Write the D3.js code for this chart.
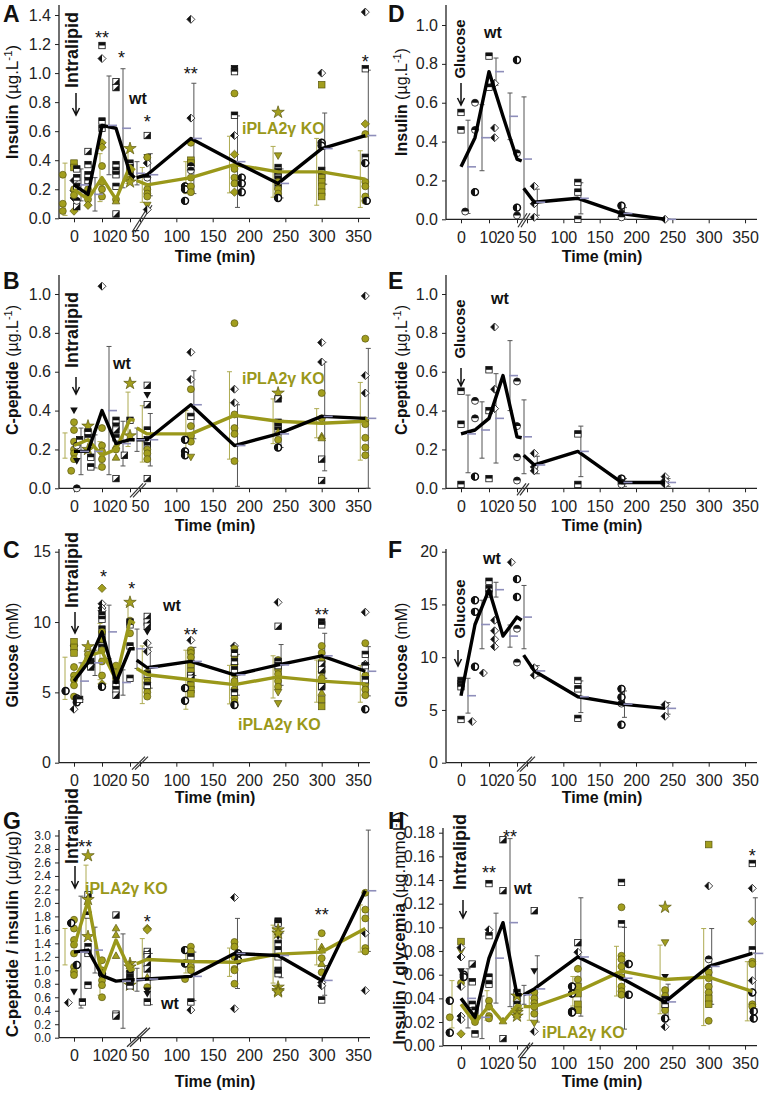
<!DOCTYPE html>
<html><head><meta charset="utf-8">
<script src="https://cdn.jsdelivr.net/npm/d3@7"></script>
<style>body{margin:0;background:#fff} svg{display:block}</style>
</head><body><svg id="c" width="765" height="1093"></svg>
<script>
// ---------- shared ----------
const xTickVals = [0,10,20,50,100,150,200,250,300,350];
const tEarly = [0,5,10,15,20,34];
const tLate = [40,60,120,180,240,300,360];
const tLateR = [40,60,120,180,240];

// ---------- Panel A: insulin, intralipid ----------
const A_wtE = [0.23,0.165,0.64,0.62,0.31,0.28];
const A_wtE_sd = [0.11,0.115,0.34,0.41,0.08,null];
const A_wtL = [0.28,0.30,0.55,0.39,0.24,0.48,0.57];
const A_wtL_sd = [null,0.145,0.38,0.315,0.10,0.245,0.45];
const A_koE = [0.20,0.13,0.28,0.13,0.36,0.33];
const A_koE_sd = [0.18,null,0.165,null,0.12,null];
const A_koL = [0.26,0.23,0.28,0.37,0.32,0.32,0.27];
const A_koL_sd = [null,0.12,0.11,0.195,0.175,0.23,0.195];
const A_pts = [[-4,0.30,'O'],[-4,0.10,'O'],[-4,0.05,'O'],
[0,0.38,'Q'],[0,0.35,'Q'],[0,0.26,'d'],[0,0.19,'d'],[0,0.14,'d'],[0,0.20,'O'],[0,0.05,'D'],[1,0.34,'q'],[1,0.28,'q'],[1,0.22,'q'],[1,0.08,'r'],[1,0.12,'h'],[0,0.16,'O'],
[5,0.46,'r'],[5,0.37,'q'],[5,0.30,'q'],[5,0.26,'q'],[5,0.20,'O'],[5,0.17,'O'],[5,0.13,'O'],[5,0.09,'D'],
[10,1.19,'q'],[10,1.10,'d'],[10,0.67,'q'],[10,0.62,'q'],[10,0.52,'D'],[10,0.49,'D'],[10,0.36,'O'],[10,0.25,'O'],[10,0.20,'O'],[10,0.15,'O'],
[15,0.94,'r'],[15,0.90,'r'],[15,0.37,'q'],[15,0.33,'q'],[15,0.30,'q'],[15,0.22,'q'],[15,0.03,'r'],[15,0.13,'O'],[15,0.12,'T'],
[20,0.48,'S'],[20,0.38,'q'],[20,0.35,'q'],[20,0.30,'q'],[20,0.33,'O'],[20,0.27,'O'],[20,0.25,'S'],
[60,0.57,'r'],[60,0.42,'t'],[60,0.40,'t'],[60,0.38,'d'],[60,0.42,'O'],[60,0.28,'h'],[60,0.20,'O'],[60,0.17,'O'],[60,0.15,'O'],[60,0.09,'V'],[60,0.06,'d'],
[120,1.37,'d'],[120,0.69,'d'],[120,0.52,'O'],[120,0.40,'Q'],[120,0.38,'Q'],[120,0.36,'h'],[120,0.33,'h'],[112,0.22,'b'],[112,0.20,'b'],[112,0.12,'b'],[120,0.28,'O'],[120,0.22,'O'],[120,0.18,'O'],
[180,1.03,'q'],[180,1.01,'q'],[180,0.71,'q'],[180,0.57,'d'],[180,0.86,'O'],[180,0.44,'D'],[180,0.34,'O'],[180,0.28,'O'],[180,0.24,'O'],[180,0.18,'D'],[190,0.28,'b'],[190,0.24,'b'],[190,0.18,'b'],
[240,0.73,'S'],[240,0.43,'V'],[240,0.35,'q'],[240,0.32,'q'],[240,0.30,'q'],[240,0.27,'q'],[240,0.22,'q'],[240,0.25,'O'],[240,0.20,'O'],[240,0.17,'O'],[240,0.14,'b'],
[300,1.0,'d'],[300,0.92,'Q'],[300,0.52,'b'],[300,0.50,'b'],[300,0.33,'q'],[300,0.30,'q'],[300,0.28,'Q'],[300,0.25,'Q'],[300,0.22,'Q'],[300,0.18,'Q'],[300,0.15,'Q'],
[360,1.42,'d'],[360,1.03,'q'],[360,0.65,'D'],[360,0.58,'O'],[360,0.42,'q'],[360,0.38,'b'],[360,0.25,'O'],[360,0.22,'O'],[360,0.15,'O'],[360,0.12,'O'],[362,0.12,'b']];
const A_stars = [[10,1.276,'**'],[17,1.136,'*'],[60,0.70,'*'],[120,1.03,'**'],[360,1.11,'*']];

// ---------- Panel B: C-peptide, intralipid ----------
const B_wtE = [0.19,0.19,0.40,0.23,0.25,0.25];
const B_wtE_sd = [0.12,0.085,0.33,0.115,0.06,null];
const B_wtL = [0.25,0.25,0.43,0.22,0.28,0.37,0.36];
const B_wtL_sd = [null,0.135,0.175,0.21,0.07,0.28,0.36];
const B_koE = [0.22,0.25,0.17,0.20,0.355,0.35];
const B_koE_sd = [0.065,null,0.07,null,0.14,null];
const B_koL = [0.31,0.28,0.28,0.375,0.345,0.335,0.345];
const B_koL_sd = [null,0.145,0.12,0.225,0.115,0.075,0.20];
const B_pts = [[0,0.40,'t'],[0,0.34,'O'],[0,0.30,'O'],[0,0.24,'O'],[0,0.20,'O'],[0,0.18,'O'],[0,0.15,'O'],[-1,0.09,'O'],[1,0.0,'h'],[1,0.22,'h'],[1,0.14,'t'],[2,0.25,'q'],
[5,0.32,'S'],[5,0.29,'q'],[5,0.26,'q'],[5,0.20,'S'],[6,0.16,'q'],[6,0.11,'q'],
[10,1.04,'d'],[10,0.31,'O'],[10,0.22,'O'],[10,0.19,'O'],[10,0.15,'O'],[10,0.11,'O'],
[15,0.35,'q'],[15,0.32,'q'],[15,0.30,'r'],[15,0.26,'q'],[15,0.05,'r'],[15,0.22,'T'],[15,0.20,'O'],[15,0.16,'T'],
[20,0.54,'S'],[20,0.35,'q'],[20,0.27,'S'],[18,0.17,'r'],
[60,0.53,'r'],[60,0.48,'t'],[60,0.43,'r'],[60,0.30,'q'],[60,0.25,'q'],[60,0.22,'q'],[60,0.20,'O'],[60,0.18,'O'],[60,0.15,'O'],[60,0.05,'r'],
[120,0.70,'d'],[120,0.56,'d'],[120,0.51,'O'],[120,0.37,'q'],[120,0.32,'O'],[120,0.27,'O'],[120,0.24,'O'],[112,0.25,'b'],[112,0.19,'b'],[112,0.17,'b'],[120,0.16,'V'],
[180,0.85,'O'],[180,0.51,'d'],[180,0.44,'d'],[180,0.38,'O'],[180,0.31,'O'],[180,0.28,'O'],[180,0.14,'O'],
[240,0.49,'S'],[240,0.46,'r'],[240,0.34,'q'],[240,0.32,'q'],[240,0.30,'q'],[240,0.25,'O'],[240,0.29,'T'],[240,0.21,'b'],
[300,0.75,'d'],[300,0.65,'d'],[300,0.49,'O'],[300,0.36,'O'],[300,0.27,'T'],[300,0.26,'T'],[300,0.15,'r'],[300,0.04,'r'],
[360,0.99,'d'],[360,0.77,'O'],[360,0.58,'d'],[360,0.49,'d'],[360,0.35,'O'],[360,0.33,'O'],[360,0.26,'O'],[360,0.21,'O'],[360,0.17,'O']];
const B_stars = [];

// ---------- Panel C: glucose, intralipid ----------
const C_wtE = [5.8,7.1,9.3,5.7,8.1,8.1];
const C_wtE_sd = [1.3,0.9,1.9,0.9,1.4,null];
const C_wtL = [7.3,6.75,7.2,6.25,6.95,7.6,6.5];
const C_wtL_sd = [null,1.45,1.0,1.45,1.45,1.6,1.75];
const C_koE = [6.0,7.6,7.9,5.9,10.1,9.9];
const C_koE_sd = [1.5,null,2.0,null,1.1,null];
const C_koL = [6.7,6.25,5.9,5.55,6.1,5.8,5.6];
const C_koL_sd = [null,2.05,2.1,1.37,1.5,1.5,1.3];
const C_pts = [[-3,5.1,'b'],[0,8.3,'d'],[0,8.6,'Q'],[0,8.2,'Q'],[0,7.8,'Q'],[0,6.8,'O'],[0,6.2,'O'],[0,5.9,'O'],[0,5.5,'O'],[0,4.7,'O'],[1,4.57,'b'],[1,4.3,'b'],[2,4.5,'q'],[0,3.8,'d'],
[5,8.25,'S'],[5,7.7,'O'],[5,7.4,'O'],[6,7.2,'q'],[6,7.0,'q'],[6,6.8,'r'],
[10,12.4,'D'],[10,11.3,'d'],[10,11.0,'d'],[10,10.8,'d'],[10,10.5,'q'],[10,10.2,'q'],[10,9.5,'q'],[10,9.1,'q'],[10,8.5,'q'],[10,8.2,'q'],[10,9.3,'O'],[10,8.8,'O'],[10,8.0,'O'],[10,7.2,'O'],[10,6.2,'O'],[10,5.6,'D'],[10,5.4,'b'],
[15,6.9,'O'],[15,6.4,'O'],[15,6.0,'O'],[15,5.6,'q'],[15,5.2,'q'],[15,4.8,'r'],
[20,11.4,'S'],[20,10.1,'O'],[20,9.2,'O'],[20,10.0,'q'],[20,9.8,'q'],[20,8.3,'q'],[20,6.0,'q'],
[60,10.4,'r'],[60,10.0,'r'],[60,9.7,'r'],[60,9.3,'t'],[60,8.5,'d'],[60,7.9,'d'],[60,6.4,'O'],[60,6.0,'O'],[60,5.7,'O'],[60,5.3,'O'],[60,5.0,'O'],[60,4.7,'O'],[60,5.5,'q'],[60,6.3,'q'],
[120,8.7,'d'],[120,8.0,'O'],[120,7.8,'O'],[120,7.5,'O'],[120,7.0,'Q'],[120,6.5,'Q'],[120,6.2,'r'],[120,5.5,'Q'],[120,5.2,'Q'],[120,4.9,'Q'],[112,5.3,'b'],[112,4.4,'b'],[120,6.0,'r'],
[180,8.3,'d'],[180,8.1,'O'],[180,7.6,'O'],[180,7.0,'O'],[180,6.3,'O'],[180,5.8,'O'],[180,5.2,'O'],[180,4.6,'O'],[180,4.3,'O'],[180,7.8,'q'],[180,7.2,'q'],[180,6.6,'q'],[180,5.0,'q'],[180,4.1,'b'],
[240,11.4,'d'],[240,9.7,'r'],[240,7.3,'O'],[240,6.6,'O'],[240,6.3,'O'],[240,5.8,'O'],[240,5.4,'O'],[240,5.0,'V'],[240,4.2,'V'],[240,7.2,'q'],[240,6.9,'q'],
[300,10.0,'q'],[300,9.8,'q'],[300,8.3,'O'],[300,7.8,'O'],[300,7.2,'O'],[300,6.5,'O'],[300,6.0,'O'],[300,5.5,'Q'],[300,5.0,'T'],[300,4.5,'Q'],[300,4.0,'Q'],[300,7.0,'r'],[300,6.6,'r'],[300,5.4,'r'],
[360,10.7,'d'],[360,8.5,'O'],[360,7.0,'d'],[360,6.2,'O'],[360,5.6,'O'],[360,5.2,'O'],[360,4.8,'O'],[360,3.8,'b'],[360,7.7,'q'],[360,6.9,'q'],[360,5.9,'q']];
const C_stars = [[10.5,13.6,'*'],[25,12.75,'*'],[120,9.43,'**'],[300,10.85,'**']];

// ---------- Panel D: insulin, glucose (wt) ----------
const D_wtE = [0.27,0.42,0.76,0.53,0.31,0.30];
const D_wtE_sd = [0.24,0.17,0.07,0.12,0.32,null];
const D_wtL = [0.16,0.088,0.108,0.03,0.0];
const D_wtL_sd = [null,0.067,0.08,0.03,0];
const D_pts = [[0,0.55,'q'],[0,0.46,'q'],[1.5,0.04,'h'],[5,0.60,'h'],[5,0.46,'h'],[5,0.14,'b'],[10,0.84,'q'],[10,0.68,'q'],[12,0.70,'d'],[12,0.47,'d'],[12,0.42,'d'],
[20,0.82,'b'],[20,0.34,'h'],[20,0.06,'b'],[20,0.02,'h'],[60,0.17,'d'],[60,0.08,'d'],[60,0.01,'d'],[120,0.19,'q'],[120,0.14,'q'],[120,0.0,'q'],[180,0.07,'b'],[180,0.03,'h'],[180,0.01,'h'],[240,0.0,'d']];

// ---------- Panel E: C-peptide, glucose (wt) ----------
const E_wtE = [0.28,0.30,0.36,0.58,0.265,0.26];
const E_wtE_sd = [0.20,0.145,0.23,0.18,0.19,null];
const E_wtL = [0.17,0.12,0.19,0.03,0.03];
const E_wtL_sd = [null,0.045,0.13,0.02,0.02];
const E_pts = [[0,0.50,'q'],[0,0.33,'q'],[0,0.02,'q'],[5,0.45,'h'],[5,0.36,'h'],[5,0.06,'b'],[10,0.61,'q'],[10,0.40,'q'],[10,0.05,'q'],[12,0.83,'d'],[12,0.51,'d'],[12,0.41,'d'],
[20,0.55,'h'],[20,0.32,'h'],[20,0.16,'h'],[20,0.04,'h'],[60,0.18,'d'],[60,0.11,'d'],[60,0.09,'d'],[120,0.28,'q'],[120,0.02,'q'],[180,0.05,'b'],[180,0.03,'h'],[180,0.02,'h'],[240,0.06,'d'],[240,0.04,'d'],[240,0.02,'d']];

// ---------- Panel F: glucose, glucose (wt) ----------
const F_wtE = [6.35,13.1,16.4,12.0,13.8,13.5];
const F_wtE_sd = [1.65,2.3,0.7,1.05,3.0,null];
const F_wtL = [10.2,8.7,6.25,5.55,5.15];
const F_wtL_sd = [null,0.5,1.5,1.25,0.55];
const F_pts = [[0,7.8,'q'],[0,7.5,'q'],[0,7.2,'q'],[0,4.1,'q'],[5,15.4,'b'],[5,14.3,'b'],[5,9.1,'b'],[4,3.9,'d'],[8,8.5,'d'],[10,17.2,'q'],[10,16.5,'q'],[10,16.0,'q'],
[12,13.5,'d'],[12,12.5,'d'],[12,11.7,'d'],[12,11.0,'d'],[18,19.0,'d'],[20,17.4,'b'],[20,15.7,'b'],[20,12.7,'h'],[20,9.5,'h'],[60,9.0,'d'],[60,8.3,'d'],
[120,7.8,'q'],[120,7.0,'q'],[120,4.2,'q'],[180,7.0,'b'],[180,6.2,'b'],[180,5.6,'h'],[180,3.6,'b'],[240,5.5,'d'],[240,4.4,'d']];

// ---------- Panel G: C-peptide / insulin ----------
const G_wtE = [1.27,1.30,0.92,0.84,0.86,0.86];
const G_wtE_sd = [0.83,0.34,null,0.70,0.17,null];
const G_wtL = [0.86,0.87,0.91,1.25,1.22,0.85,2.18];
const G_wtL_sd = [null,0.38,0.36,0.52,0.33,0.22,0.90];
const G_koE = [1.35,2.03,0.90,1.45,1.0,1.02];
const G_koE_sd = [0.27,0.53,0.27,null,null,null];
const G_koL = [1.10,1.16,1.13,1.12,1.24,1.27,1.62];
const G_koL_sd = [null,0.31,0.17,0.21,0.43,0.19,0.35];
const G_pts = [[-2,0.52,'d'],[0,1.75,'O'],[0,1.62,'O'],[0,1.45,'O'],[0,1.38,'O'],[0,1.25,'O'],[0,1.05,'O'],[0,0.98,'O'],[0,0.93,'O'],[0,0.68,'t'],[-1,1.70,'b'],[1,1.08,'b'],
[5,2.70,'S'],[5,2.12,'r'],[5,2.05,'S'],[5,1.82,'q'],[5,1.35,'q'],[5,1.25,'q'],[5,1.50,'S'],[5,0.78,'q'],[3,0.53,'q'],
[10,1.15,'O'],[10,1.0,'O'],[10,0.85,'O'],[10,0.78,'O'],[10,0.60,'O'],[10,0.95,'b'],
[15,1.82,'r'],[15,0.35,'r'],[15,0.32,'r'],[15,1.63,'T'],[15,1.53,'T'],[15,1.22,'T'],
[20,1.10,'S'],[20,1.05,'S'],[20,0.78,'S'],[20,0.95,'q'],[20,0.90,'q'],[20,0.85,'q'],[20,0.80,'q'],[20,0.77,'q'],
[60,1.62,'D'],[60,1.60,'D'],[60,1.28,'r'],[60,1.23,'r'],[60,1.20,'r'],[60,1.10,'r'],[60,1.02,'r'],[60,0.90,'T'],[60,0.75,'O'],[60,0.70,'t'],[60,0.65,'t'],[60,0.53,'q'],
[112,1.30,'b'],[112,1.10,'b'],[120,1.35,'O'],[120,1.28,'O'],[120,1.20,'q'],[120,1.05,'O'],[120,1.0,'O'],[120,0.53,'q'],[120,0.41,'d'],[112,0.87,'O'],
[180,2.08,'d'],[180,0.43,'d'],[180,1.42,'O'],[180,1.35,'O'],[180,1.20,'O'],[180,1.02,'O'],[180,1.0,'O'],[180,0.80,'O'],[185,1.25,'b'],[185,1.15,'b'],
[240,1.73,'q'],[240,1.70,'q'],[240,1.50,'t'],[240,1.40,'q'],[240,1.30,'q'],[240,1.20,'q'],[240,1.0,'q'],[240,0.95,'q'],[240,1.60,'S'],[240,1.55,'S'],[240,0.75,'S'],[240,0.70,'S'],[240,0.68,'S'],
[300,1.55,'O'],[300,1.35,'T'],[300,1.30,'T'],[300,1.10,'T'],[300,0.97,'O'],[300,1.18,'O'],[300,0.82,'d'],[300,0.77,'d'],[300,0.56,'q'],
[360,2.15,'O'],[360,1.90,'O'],[360,1.77,'O'],[360,1.33,'O'],[360,1.28,'O'],[360,1.55,'d'],[360,0.70,'d']];
const G_stars = [[4,2.9,'**'],[60,1.8,'*'],[300,1.89,'**']];

// ---------- Panel H: insulin / glycemia ----------
const H_wtE = [0.040,0.024,0.074,0.104,0.043,0.043];
const H_wtE_sd = [0.025,0.018,0.038,0.071,0.008,null];
const H_wtL = [0.043,0.048,0.075,0.057,0.037,0.067,0.078];
const H_wtL_sd = [null,0.028,0.050,0.043,0.015,0.032,0.047];
const H_koE = [0.035,0.019,0.034,0.020,0.034,0.033];
const H_koE_sd = [0.020,null,0.0125,null,null,null];
const H_koL = [0.033,0.033,0.046,0.063,0.056,0.058,0.046];
const H_koL_sd = [null,0.0115,0.0125,0.021,0.029,0.041,0.025];
const H_pts = [[-4,0.038,'b'],[-4,0.024,'O'],[-4,0.011,'b'],[0,0.088,'Q'],[0,0.080,'V'],[0,0.083,'d'],[0,0.075,'d'],[0,0.053,'O'],[0,0.050,'d'],[0,0.025,'d'],[0,0.022,'d'],[0,0.010,'D'],[0,0.063,'t'],[1,0.060,'b'],[1,0.058,'b'],
[4,0.069,'r'],[4,0.054,'q'],[4,0.035,'q'],[5,0.030,'q'],[5,0.010,'q'],[5,0.020,'O'],[5,0.025,'O'],
[10,0.137,'q'],[10,0.098,'d'],[10,0.093,'q'],[10,0.058,'q'],[10,0.052,'q'],[10,0.038,'O'],[10,0.033,'O'],[10,0.025,'O'],[10,0.023,'O'],
[15,0.174,'r'],[15,0.131,'r'],[15,0.006,'r'],[15,0.021,'T'],
[20,0.045,'q'],[20,0.040,'q'],[20,0.035,'q'],[20,0.042,'S'],[20,0.030,'S'],[20,0.028,'S'],[20,0.025,'S'],
[60,0.114,'r'],[60,0.063,'t'],[60,0.045,'O'],[60,0.040,'O'],[60,0.036,'O'],[60,0.033,'O'],[60,0.027,'O'],[60,0.019,'V'],[60,0.012,'d'],
[120,0.087,'r'],[120,0.079,'d'],[120,0.065,'O'],[120,0.056,'O'],[120,0.050,'Q'],[120,0.044,'Q'],[120,0.035,'Q'],[120,0.030,'Q'],[112,0.050,'b'],[112,0.044,'b'],[112,0.029,'b'],[112,0.028,'b'],
[180,0.138,'q'],[180,0.117,'O'],[180,0.103,'q'],[180,0.076,'O'],[180,0.073,'O'],[180,0.067,'O'],[180,0.058,'O'],[180,0.050,'O'],[180,0.046,'O'],[180,0.043,'O'],[190,0.069,'b'],[190,0.043,'b'],
[240,0.117,'S'],[240,0.087,'V'],[240,0.058,'t'],[240,0.047,'O'],[240,0.042,'O'],[240,0.037,'O'],[240,0.033,'O'],[240,0.030,'O'],[240,0.039,'q'],[240,0.035,'q'],[240,0.023,'b'],[240,0.016,'d'],
[300,0.170,'Q'],[300,0.135,'d'],[300,0.073,'h'],[300,0.062,'O'],[300,0.057,'O'],[300,0.050,'O'],[300,0.045,'O'],[300,0.040,'Q'],[300,0.035,'Q'],[300,0.021,'O'],
[360,0.154,'q'],[360,0.133,'d'],[360,0.105,'D'],[360,0.081,'q'],[360,0.071,'O'],[360,0.069,'O'],[360,0.055,'d'],[360,0.045,'b'],[360,0.035,'O'],[360,0.033,'O'],[362,0.029,'b'],[362,0.023,'b']];
const H_stars = [[10,0.150,'**'],[17.5,0.181,'**'],[360,0.165,'*']];

// ---------- drawing ----------
const FONT = 'Arial, "Liberation Sans", Helvetica, sans-serif';
const OLIVE = '#9a981a', OLIVE_FILL = '#a29e1e', OLIVE_BAR = '#aeab52', LAV = '#8e8eba', WT_BAR = '#555';
const svg = d3.select('#c').attr('font-family', FONT);

function makeX(t0x){ return d3.scaleLinear().domain([0,20,50,360]).range([t0x, t0x+56, t0x+66, t0x+291.3]); }

function sym(g, cx, cy, s){
  const r = 3.5, k = 0.8;
  const blk = '#111';
  if (s==='h' || s==='b'){
    g.append('circle').attr('cx',cx).attr('cy',cy).attr('r',r).attr('fill','#fff').attr('stroke',blk).attr('stroke-width',k);
    const d = s==='h' ? `M${cx-r},${cy}A${r},${r} 0 0 1 ${cx+r},${cy}Z` : `M${cx},${cy-r}A${r},${r} 0 0 0 ${cx},${cy+r}Z`;
    g.append('path').attr('d',d).attr('fill',blk);
    if (s==='b') g.append('circle').attr('cx',cx).attr('cy',cy).attr('r',r).attr('fill','none').attr('stroke',blk).attr('stroke-width',1.4);
  } else if (s==='q' || s==='r'){
    const a = 3.2;
    g.append('rect').attr('x',cx-a).attr('y',cy-a).attr('width',2*a).attr('height',2*a).attr('fill','#fff').attr('stroke',blk).attr('stroke-width',k);
    const d = s==='q' ? `M${cx-a},${cy-a}H${cx+a}V${cy}H${cx-a}Z` : `M${cx+a},${cy-a}V${cy+a}H${cx-a}Z`;
    g.append('path').attr('d',d).attr('fill',blk);
  } else if (s==='d'){
    const a = 4;
    g.append('path').attr('d',`M${cx},${cy-a}L${cx+a},${cy}L${cx},${cy+a}L${cx-a},${cy}Z`).attr('fill','#fff').attr('stroke',blk).attr('stroke-width',k);
    g.append('path').attr('d',`M${cx},${cy-a}L${cx},${cy+a}L${cx-a},${cy}Z`).attr('fill',blk);
  } else if (s==='t'){
    g.append('path').attr('d',`M${cx-3.8},${cy-3}L${cx+3.8},${cy-3}L${cx},${cy+3.6}Z`).attr('fill',blk);
  } else {
    let el;
    if (s==='O') el = g.append('circle').attr('cx',cx).attr('cy',cy).attr('r',r);
    else if (s==='Q') el = g.append('rect').attr('x',cx-3.3).attr('y',cy-3.3).attr('width',6.6).attr('height',6.6);
    else if (s==='D') el = g.append('path').attr('d',`M${cx},${cy-4.2}L${cx+4.2},${cy}L${cx},${cy+4.2}L${cx-4.2},${cy}Z`);
    else if (s==='S') el = g.append('path').attr('d',d3.symbol(d3.symbolStar,48)()).attr('transform',`translate(${cx},${cy})`);
    else if (s==='T') el = g.append('path').attr('d',`M${cx-3.8},${cy+3}L${cx+3.8},${cy+3}L${cx},${cy-3.6}Z`);
    else el = g.append('path').attr('d',`M${cx-3.8},${cy-3}L${cx+3.8},${cy-3}L${cx},${cy+3.6}Z`);
    el.attr('fill',OLIVE_FILL).attr('stroke','#5a5810').attr('stroke-width',0.7);
  }
}

function bars(g, x, y, times, means, sds, color, dxFn){
  times.forEach((t,i)=>{
    const s = sds[i]; if (s==null) return;
    const m = means[i];
    const bx = x(t) + dxFn(i);
    const lo = y(Math.max(0, m - s)), hi = y(m + s);
    g.append('line').attr('x1',bx).attr('x2',bx).attr('y1',lo).attr('y2',hi).attr('stroke',color).attr('stroke-width',1);
    [lo,hi].forEach(yy => g.append('line').attr('x1',bx-2.5).attr('x2',bx+2.5).attr('y1',yy).attr('y2',yy).attr('stroke',color).attr('stroke-width',1));
  });
}
function dashes(g, x, y, times, means, sds, dxFn){
  times.forEach((t,i)=>{
    if (sds[i]==null) return;
    const bx = x(t) + dxFn(i);
    g.append('line').attr('x1',bx-1).attr('x2',bx+8).attr('y1',y(means[i])).attr('y2',y(means[i])).attr('stroke',LAV).attr('stroke-width',1.6);
  });
}
function meanLine(g, x, y, times, means, color){
  g.append('path').datum(times.map((t,i)=>[t,means[i]]))
    .attr('d', d3.line().x(d=>x(d[0])).y(d=>y(d[1])))
    .attr('fill','none').attr('stroke',color).attr('stroke-width',3.4).attr('stroke-linejoin','round');
}

function vtext(g, x, y, parts, size){
  const t = g.append('text').attr('transform',`translate(${x},${y}) rotate(-90)`).attr('text-anchor','middle').attr('font-size',size).attr('fill','#111');
  parts.forEach(p => {
    const ts = t.append('tspan').text(p.t);
    if (p.b) ts.attr('font-weight','bold');
    if (p.sup) ts.attr('baseline-shift','super').attr('font-size',size*0.68);
  });
  return t;
}
function arrow(g, x, y1, y2){
  g.append('path').attr('d',`M${x},${y1}V${y2}M${x-3.5},${y2-7}L${x},${y2}L${x+3.5},${y2-7}`).attr('fill','none').attr('stroke','#111').attr('stroke-width',1.5);
}

function panel(p){
  const g = svg.append('g');
  const x = makeX(p.t0x);
  const y = d3.scaleLinear().domain([0,p.yMax]).range([p.y0, p.yTopPx]);
  // axes
  const yg = g.append('g').attr('transform',`translate(${p.ox},0)`)
    .call(d3.axisLeft(y).tickValues(p.yTicks).tickFormat(d3.format(p.fmt)).tickSize(4).tickPadding(4));
  yg.select('.domain').remove();
  yg.selectAll('text').attr('font-size',p.yTickSize||16).attr('font-family',FONT).attr('fill','#222');
  yg.selectAll('line').attr('stroke','#222');
  const xg = g.append('g').attr('transform',`translate(0,${p.y0})`)
    .call(d3.axisBottom(x).tickValues(xTickVals).tickFormat(d3.format('d')).tickSize(4).tickPadding(8));
  xg.select('.domain').remove();
  xg.selectAll('text').attr('font-size',16).attr('font-family',FONT).attr('fill','#222').attr('dx', d => d===20 ? -12 : (d===10 ? -1 : 0));
  xg.selectAll('line').attr('stroke','#222');
  g.append('line').attr('x1',p.ox).attr('x2',p.ox).attr('y1',p.y0).attr('y2',p.axisTop).attr('stroke','#222').attr('stroke-width',1.3);
  g.append('line').attr('x1',p.ox).attr('x2',p.xEnd).attr('y1',p.y0).attr('y2',p.y0).attr('stroke','#222').attr('stroke-width',1.3);
  // break marks
  const bx = x(35);
  [0,3].forEach(o => g.append('line').attr('x1',bx+p.brk[0]+o).attr('y1',p.y0+p.brk[1]).attr('x2',bx+p.brk[2]+o).attr('y2',p.y0+p.brk[3]).attr('stroke','#333').attr('stroke-width',1.2));
  // axis titles
  g.append('text').attr('x',p.timeX).attr('y',p.timeY).attr('text-anchor','middle').attr('font-size',16).attr('font-weight','bold').attr('fill','#111').text('Time (min)');
  vtext(g, p.titleX, p.titleY, p.title, p.titleSize || 16);
  // data
  const wtEdx = i => 7, wtLdx = i => 3;
  const koEdx = i => i===0 ? -9 : -2, koLdx = i => -5;
  const late = p.lateT;
  if (p.koE){
    bars(g, x, y, tEarly, p.koE, p.koEsd, OLIVE_BAR, koEdx);
    bars(g, x, y, late, p.koL, p.koLsd, OLIVE_BAR, koLdx);
  }
  bars(g, x, y, tEarly, p.wtE, p.wtEsd, WT_BAR, wtEdx);
  bars(g, x, y, late, p.wtL, p.wtLsd, WT_BAR, wtLdx);
  const pg = g.append('g');
  p.pts.forEach(d => sym(pg, x(d[0]), y(d[1]), d[2]));
  if (p.koE){
    meanLine(g, x, y, tEarly, p.koE, OLIVE);
    meanLine(g, x, y, late, p.koL, OLIVE);
  }
  meanLine(g, x, y, tEarly, p.wtE, '#000');
  meanLine(g, x, y, late, p.wtL, '#000');
  dashes(g, x, y, tEarly, p.wtE, p.wtEsd, wtEdx);
  dashes(g, x, y, late, p.wtL, p.wtLsd, wtLdx);
  // significance stars
  (p.stars||[]).forEach(s => g.append('text').attr('x',x(s[0])).attr('y',y(s[1])).attr('dy','0.62em').attr('text-anchor','middle').attr('font-size',18).attr('fill','#111').text(s[2]));
  // annotations
  vtext(g, p.stim[0], p.stim[1], [{t:p.stimText,b:true}], p.stimSize);
  arrow(g, p.arr[0], p.arr[1], p.arr[2]);
  g.append('text').attr('x',p.wt[0]).attr('y',p.wt[1]).attr('text-anchor','middle').attr('dominant-baseline','central').attr('font-size',16).attr('font-weight','bold').attr('fill','#111').text('wt');
  if (p.ko) g.append('text').attr('x',p.ko[0]).attr('y',p.ko[1]).attr('dominant-baseline','central').attr('font-size',16).attr('font-weight','bold').attr('fill',OLIVE).text('iPLA2γ KO');
  g.append('text').attr('x',p.letter[1]).attr('y',p.letter[2]).attr('font-size',23).attr('font-weight','bold').attr('fill','#111').text(p.letter[0]);
}

const insT = [{t:'Insulin',b:true},{t:' (µg.L'},{t:'-1',sup:true},{t:')'}];
const cpT = [{t:'C-peptide',b:true},{t:' (µg.L'},{t:'-1',sup:true},{t:')'}];
const gluT = [{t:'Glucose',b:true},{t:' (mM)'}];
const L = {ox:59, t0x:74, xEnd:370, timeX:215, titleX:18};
const R = {ox:446, t0x:461, xEnd:757, timeX:602, titleX:407};

panel(Object.assign({}, L, {y0:218.3, yTopPx:15, yMax:1.4, axisTop:5, yTicks:d3.range(0,1.41,0.2), fmt:'.1f', timeY:262, titleY:102, title:insT, titleSize:17,
  wtE:A_wtE, wtEsd:A_wtE_sd, wtL:A_wtL, wtLsd:A_wtL_sd, koE:A_koE, koEsd:A_koE_sd, koL:A_koL, koLsd:A_koL_sd, lateT:tLate, pts:A_pts, stars:A_stars,
  brk:[-3,14,14,-13], stim:[78,50], stimText:'Intralipid', stimSize:18, arr:[76,93,115], wt:[138,98], ko:[242,128], letter:['A',3,22]}));
panel(Object.assign({}, L, {y0:488.3, yTopPx:294, yMax:1.0, axisTop:275, yTicks:d3.range(0,1.01,0.2), fmt:'.1f', timeY:531, titleY:370, title:cpT,
  wtE:B_wtE, wtEsd:B_wtE_sd, wtL:B_wtL, wtLsd:B_wtL_sd, koE:B_koE, koEsd:B_koE_sd, koL:B_koL, koLsd:B_koL_sd, lateT:tLate, pts:B_pts, stars:B_stars,
  brk:[-5,9,8,-5], stim:[78,330], stimText:'Intralipid', stimSize:18, arr:[76,377,394], wt:[122,363], ko:[242,378], letter:['B',3,289]}));
panel(Object.assign({}, L, {y0:762.7, yTopPx:551.7, yMax:15, axisTop:549, yTicks:[0,5,10,15], fmt:'d', timeY:803, titleY:655, title:gluT,
  wtE:C_wtE, wtEsd:C_wtE_sd, wtL:C_wtL, wtLsd:C_wtL_sd, koE:C_koE, koEsd:C_koE_sd, koL:C_koL, koLsd:C_koL_sd, lateT:tLate, pts:C_pts, stars:C_stars,
  brk:[-3,7,10,-6], stim:[78,570], stimText:'Intralipid', stimSize:18, arr:[75,612,633], wt:[172,605], ko:[238,724], letter:['C',3,558]}));
panel(Object.assign({}, L, {y0:1037.7, yTopPx:835.5, yMax:3.0, axisTop:830, yTicks:d3.range(0,3.01,0.2), fmt:'.1f', yTickSize:12, timeY:1087, titleY:934, title:[{t:'C-peptide / insulin',b:true},{t:' (µg/µg)'}], titleSize:17,
  wtE:G_wtE, wtEsd:G_wtE_sd, wtL:G_wtL, wtLsd:G_wtL_sd, koE:G_koE, koEsd:G_koE_sd, koL:G_koL, koLsd:G_koL_sd, lateT:tLate, pts:G_pts, stars:G_stars,
  brk:[-8,9,12,-10], stim:[78,826], stimText:'Intralipid', stimSize:18, arr:[75,866,888], wt:[170,1003], ko:[85,888], letter:['G',3,829]}));
panel(Object.assign({}, R, {y0:219.3, yTopPx:25, yMax:1.0, axisTop:5, yTicks:d3.range(0,1.01,0.2), fmt:'.1f', timeY:262, titleY:102, title:insT,
  wtE:D_wtE, wtEsd:D_wtE_sd, wtL:D_wtL, wtLsd:D_wtL_sd, lateT:tLateR, pts:D_pts,
  brk:[-4,8,5,-6], stim:[465,49], stimText:'Glucose', stimSize:15, arr:[461,83,105], wt:[493,32], letter:['D',388,22]}));
panel(Object.assign({}, R, {y0:488.3, yTopPx:294, yMax:1.0, axisTop:275, yTicks:d3.range(0,1.01,0.2), fmt:'.1f', timeY:531, titleY:370, title:cpT,
  wtE:E_wtE, wtEsd:E_wtE_sd, wtL:E_wtL, wtLsd:E_wtL_sd, lateT:tLateR, pts:E_pts,
  brk:[-5,7,4,-5], stim:[465,329], stimText:'Glucose', stimSize:15, arr:[461,368,386], wt:[500,298], letter:['E',388,289]}));
panel(Object.assign({}, R, {y0:762.7, yTopPx:551.7, yMax:20, axisTop:549, yTicks:[0,5,10,15,20], fmt:'d', timeY:803, titleY:655, title:gluT,
  wtE:F_wtE, wtEsd:F_wtE_sd, wtL:F_wtL, wtLsd:F_wtL_sd, lateT:tLateR, pts:F_pts,
  brk:[-5,9,10,-6], stim:[465,609], stimText:'Glucose', stimSize:15, arr:[458,650,666], wt:[492,558], letter:['F',388,558]}));
panel(Object.assign({}, R, {ox:443, y0:1045.7, yTopPx:832.7, yMax:0.18, axisTop:828, yTicks:d3.range(0,0.181,0.02), fmt:'.2f', timeY:1087, titleX:405, titleY:928,
  title:[{t:'Insulin / glycemia',b:true},{t:' (µg.mmol'},{t:'-1',sup:true},{t:')'}], titleSize:17,
  wtE:H_wtE, wtEsd:H_wtE_sd, wtL:H_wtL, wtLsd:H_wtL_sd, koE:H_koE, koEsd:H_koE_sd, koL:H_koL, koLsd:H_koL_sd, lateT:tLate, pts:H_pts, stars:H_stars,
  brk:[-4,12,8,-3], stim:[466,852], stimText:'Intralipid', stimSize:18, arr:[463,900,918], wt:[523,888], ko:[542,1032], letter:['H',388,829]}));
</script></body></html>
